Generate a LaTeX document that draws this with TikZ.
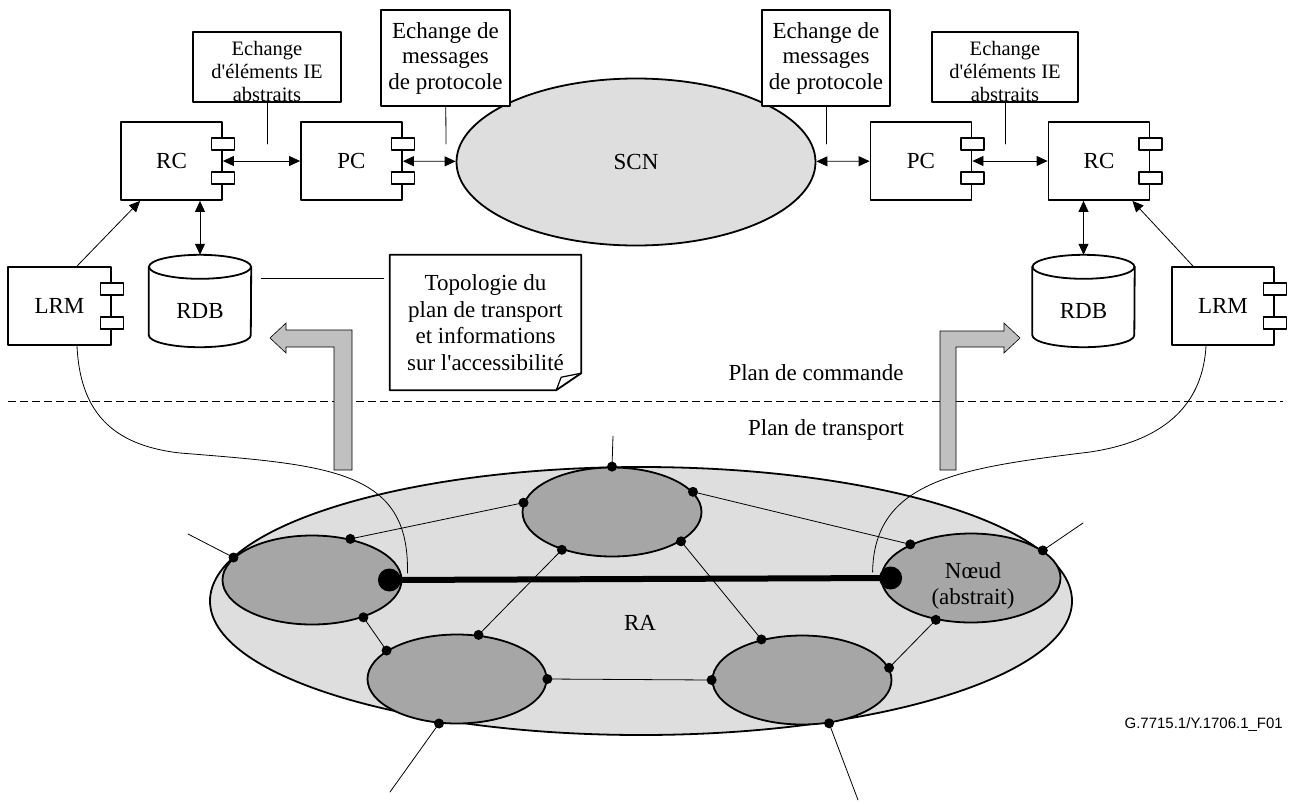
\documentclass[tikz,border=0pt]{standalone}
\usepackage{fontspec}
\setmainfont{Liberation Serif}
\newfontfamily\plainserif{Liberation Serif}
\newfontfamily\labelfont{Liberation Sans}
\newcommand\apos{{\plainserif'}}
\usetikzlibrary{arrows.meta,shapes.geometric}
\definecolor{lightgr}{HTML}{DEDEDE}
\definecolor{midgr}{HTML}{A6A6A6}
\definecolor{arrgr}{HTML}{C0C0C0}
\newcommand\drawdb[1]{%
  \draw[line width=1.8pt] ([yshift=-12pt]#1.north west) -- ([yshift=12pt]#1.south west)
    arc[start angle=180,end angle=360,x radius=51pt,y radius=12pt] -- ([yshift=-12pt]#1.north east);
  \draw[line width=1.8pt] ([yshift=-12pt]#1.north) ellipse[x radius=51pt,y radius=12pt];
}
\begin{document}
\begin{tikzpicture}[x=1pt,y=-1pt,line join=round,line cap=round,>={Triangle[length=11pt,width=10pt]},
  font=\fontsize{23}{25.5}\selectfont,
  fbox/.style={draw,line width=1.8pt,fill=white,inner sep=0pt,minimum width=101pt,minimum height=78pt},
  port/.style={draw,line width=1.5pt,fill=white,inner sep=0pt,minimum width=23pt,minimum height=12pt},
  msgbox/.style={draw,line width=1.8pt,fill=white,inner sep=0pt,align=center},
  ietext/.style={font=\fontsize{20.5}{23}\selectfont,align=center,inner sep=0pt},
  dbbox/.style={inner sep=0pt,minimum width=102pt,minimum height=92pt},
  sub/.style={ellipse,draw,line width=1.8pt,fill=midgr,inner sep=0pt,minimum width=179pt,minimum height=89pt},
  thin/.style={line width=0.8pt},
  blockarrow/.style={fill=arrgr,draw,line width=0.6pt,line join=miter},
  ]
\useasboundingbox (0,0) rectangle (1290,801);

% plan de commande
\node[fbox] (rcL) at (171.5,161) {RC};
\node[fbox] (pcL) at (351.5,161) {PC};
\node[fbox] (pcR) at (921,161) {PC};
\node[fbox] (rcR) at (1099,161) {RC};
\node[fbox,minimum width=103pt] (lrmL) at (59.5,306) {LRM};
\node[fbox,minimum width=102pt] (lrmR) at (1223,306) {LRM};
\foreach \b in {rcL,pcL,pcR,rcR,lrmL,lrmR}
  \foreach \s/\t in {17/a,-17/b}
    \node[port] (\b\t) at ([yshift=\s pt]\b.east) {};

\node[ellipse,draw,line width=1.8pt,fill=lightgr,inner sep=0pt,minimum width=359pt,minimum height=167pt] (scn) at (636,162) {SCN};

\node[msgbox,minimum width=129pt,minimum height=96pt] (protoL) at (445.5,58) {Echange de\\messages\\de protocole};
\node[msgbox,minimum width=128pt,minimum height=96pt] (protoR) at (826,58) {Echange de\\messages\\de protocole};
\node[msgbox,minimum width=148pt,minimum height=70pt] (ieL) at (267,67) {};
\node[msgbox,minimum width=146pt,minimum height=70pt] (ieR) at (1005,67) {};
\node[ietext] (ieLt) at (267,71) {Echange\\d\apos éléments IE\\abstraits};
\node[ietext] (ieRt) at (1005,71) {Echange\\d\apos éléments IE\\abstraits};

\path (267,144) coordinate (ieLe)
      (446,144) coordinate (protoLe)
      (826,144) coordinate (protoRe)
      (1005,144) coordinate (ieRe);
\foreach \a/\b in {ieL/ieLe,protoL/protoLe,protoR/protoRe,ieR/ieRe}
  \draw[thin] (\a) -- (\b);

\draw[thin,<->] (rcL) -- (pcL);
\draw[thin,<->] (pcL) -- (scn);
\draw[thin,<->] (scn) -- (pcR);
\draw[thin,<->] (pcR) -- (rcR);

\node[dbbox] (rdbL) at (200,301) {};
\node[dbbox] (rdbR) at (1083.5,301) {};
\drawdb{rdbL}
\drawdb{rdbR}
\node (rdbLt) at (200,311) {RDB};
\node (rdbRt) at (1083.5,311) {RDB};
\draw[thin,<->] (rcL.south -| rdbL.north) -- (rdbL.north);
\draw[thin,<->] (rcR.south -| rdbR.north) -- (rdbR.north);
\draw[thin,->] ([xshift=17.5pt]lrmL.north) -- ([xshift=20pt]rcL.south west);
\draw[thin,->] ([xshift=-30pt]lrmR.north) -- ([xshift=-18pt]rcR.south east);

\node[inner sep=0pt,minimum width=191pt,minimum height=135pt,align=center,font=\fontsize{23}{26.5}\selectfont] (note) at (485.5,322.5)
  {Topologie du\\plan de transport\\et informations\\sur l\apos accessibilité};
\draw[line width=1.8pt] (note.north west) -- (note.north east) -- ([yshift=17pt]note.south east)
  -- ([xshift=-25pt]note.south east) -- (note.south west) -- cycle;
\draw[line width=1.2pt] ([xshift=-25pt]note.south east) -- ([xshift=-20pt,yshift=13pt]note.south east) -- ([yshift=17pt]note.south east);
\coordinate (tp) at ([yshift=23pt]rdbL.east);
\draw[thin,shorten <=10pt,shorten >=6pt] (tp) -- (tp -| note.west);

\draw[thin,dash pattern=on 8pt off 4pt,line cap=butt] (8,401) -- (1283,401);
\node (cmd) at (816,373) {Plan de commande};
\node (trn) at (826,430) {Plan de transport};

\draw[blockarrow] (334,470) -- (334,347) -- (286,347) -- (286,353) -- (270,338) -- (286,323) -- (286,330) -- (352,330) -- (352,470) -- cycle;
\draw[blockarrow] (940,470) -- (940,331) -- (1004,331) -- (1004,323) -- (1020,338) -- (1004,353) -- (1004,347) -- (956,347) -- (956,470) -- cycle;

% plan de transport
\node[ellipse,draw,line width=1.8pt,fill=lightgr,inner sep=0pt,minimum width=862pt,minimum height=268pt] (ra) at (641,601) {};
\node (ralbl) at (640,623) {RA};
\node[sub] (n1) at (312,580) {};
\node[sub] (n2) at (612,512) {};
\node[sub] (n3) at (457,679) {};
\node[sub] (n4) at (802,680) {};
\node[sub] (n5) at (971,578) {};
\node[align=center,inner sep=0pt] (n5t) at (973,586) {Nœud\\(abstrait)};

\foreach \a/\b in {n1.47/n2.174,n2.14/n5.151,n1.324/n3.158,n2.217/n3.64,n2.337/n4.135,n3.0/n4.180,n4.8/n5.230}
  \draw[thin] (\a) -- (\b);
\path (613,436) coordinate (e2)
      (188,534) coordinate (e1)
      (1083,523) coordinate (e5)
      (390,792) coordinate (e3)
      (858,800) coordinate (e4);
\foreach \a/\b in {n2.90/e2,n1.164/e1,n5.21/e5,n3.248/e3,n4.302/e4}
  \draw[thin] (\a) -- (\b);
\foreach \p in {n1.164,n1.47,n1.324,n2.90,n2.174,n2.217,n2.337,n2.14,n3.158,n3.64,n3.0,n3.248,n4.135,n4.180,n4.8,n4.302,n5.151,n5.21,n5.230}
  \fill (\p) circle[radius=5pt];

\coordinate (bigL) at ([xshift=-13pt]n1.east);
\coordinate (bigR) at ([xshift=10pt]n5.west);
\draw[line width=6pt,line cap=butt] (bigL) -- (bigR);
\fill (bigL) circle[radius=11.5pt];
\fill (bigR) circle[radius=11.5pt];

\draw[thin] ([xshift=17.5pt]lrmL.south) .. controls (80,410) and (110,445) .. (180,453)
  .. controls (330,465) and (410,470) .. ([xshift=18pt,yshift=7pt]bigL);
\draw[thin] ([xshift=-17pt]lrmR.south) .. controls (1203,400) and (1170,440) .. (1090,452)
  .. controls (960,468) and (874,480) .. ([xshift=-18pt,yshift=6pt]bigR);

\node[font=\labelfont\fontsize{15}{18}\selectfont,anchor=east,inner sep=0pt] (fig) at (1283,725) {G.7715.1/Y.1706.1\_F01};
\end{tikzpicture}
\end{document}
